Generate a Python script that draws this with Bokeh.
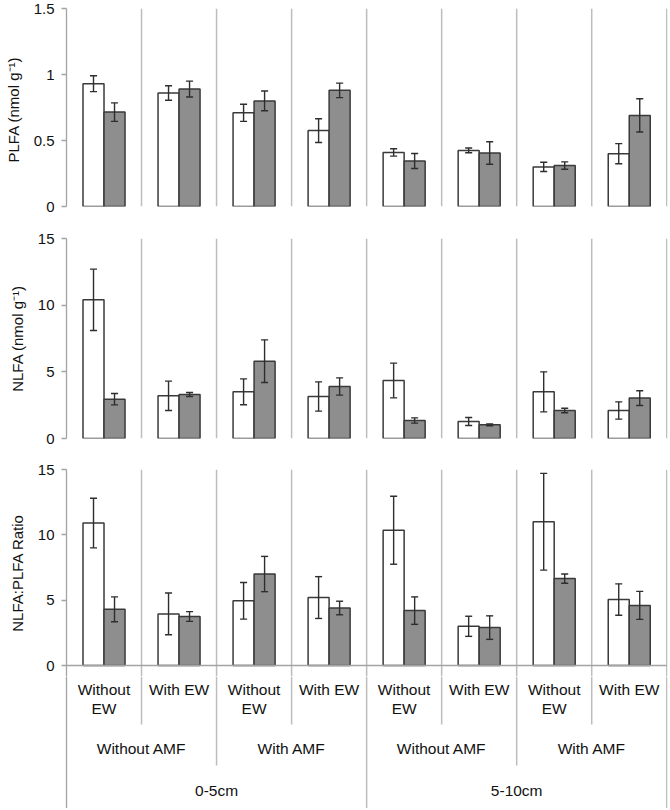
import numpy as np
from bokeh.plotting import figure
from bokeh.layouts import column
from bokeh.models import Range1d, FixedTicker, CustomJSTickFormatter
from bokeh.embed import file_html
from bokeh.resources import INLINE
from bokeh.core.properties import value

# ---------------- data ----------------
depths = ["0-5cm", "5-10cm"]
amf_levels = ["Without AMF", "With AMF"]
ew_levels = ["Without\nEW", "With EW"]

plfa_white = [0.93, 0.86, 0.71, 0.575, 0.41, 0.425, 0.30, 0.40]
plfa_white_se = [0.06, 0.055, 0.065, 0.09, 0.028, 0.018, 0.035, 0.076]
plfa_gray = [0.715, 0.89, 0.80, 0.88, 0.345, 0.405, 0.31, 0.69]
plfa_gray_se = [0.07, 0.06, 0.075, 0.055, 0.057, 0.085, 0.028, 0.126]

nlfa_white = [10.4, 3.2, 3.5, 3.15, 4.35, 1.27, 3.5, 2.1]
nlfa_white_se = [2.3, 1.1, 0.97, 1.1, 1.3, 0.3, 1.5, 0.65]
nlfa_gray = [2.95, 3.3, 5.8, 3.9, 1.35, 1.03, 2.1, 3.03]
nlfa_gray_se = [0.43, 0.15, 1.6, 0.65, 0.2, 0.07, 0.17, 0.55]

ratio_white = [10.9, 3.95, 4.95, 5.2, 10.35, 3.0, 11.0, 5.05]
ratio_white_se = [1.9, 1.6, 1.4, 1.6, 2.6, 0.77, 3.7, 1.2]
ratio_gray = [4.3, 3.75, 7.0, 4.4, 4.2, 2.9, 6.65, 4.6]
ratio_gray_se = [0.95, 0.37, 1.35, 0.52, 1.05, 0.9, 0.35, 1.07]

plfa_ticks = [0, 0.5, 1, 1.5]
nlfa_ticks = [0, 5, 10, 15]
ratio_ticks = [0, 5, 10, 15]

# ---------------- style ----------------
FONT = "Liberation Sans"
W = 670
LEFT = 66
RIGHT = 3
NG = len(plfa_white)
XR = (0, NG + 0.01)
BW = 0.28
CAP = 0.047
SEP_COLOR = "#bdbdbd"
AX_COLOR = "#a3a3a3"
BAR_LINE = "#3a3a3a"
GRAY_FILL = "#8e8e8e"
ERR_COLOR = "#2e2e2e"
TXT = "#111111"

xc = np.arange(NG) + 0.5


def base_fig(height, top, bottom, ymin, ymax, ticks):
    p = figure(width=W, height=height, output_backend="svg", toolbar_location=None,
               x_range=Range1d(*XR), y_range=Range1d(ymin, ymax),
               x_axis_location=None, title=None, tools="",
               min_border_left=LEFT, min_border_right=RIGHT,
               min_border_top=top, min_border_bottom=bottom)
    p.grid.visible = False
    p.outline_line_color = None
    p.background_fill_color = "white"
    p.border_fill_color = "white"
    ax = p.yaxis[0]
    ax.ticker = FixedTicker(ticks=ticks)
    ax.formatter = CustomJSTickFormatter(code="return String(tick);")
    ax.axis_line_color = AX_COLOR
    ax.axis_line_width = 1.3
    ax.major_tick_line_color = AX_COLOR
    ax.major_tick_line_width = 1.3
    ax.major_tick_in = 0
    ax.major_tick_out = 5
    ax.minor_tick_line_color = None
    ax.major_label_text_font = FONT
    ax.major_label_text_font_size = "15px"
    ax.major_label_text_color = TXT
    ax.major_label_standoff = 7
    ax.axis_label_text_font = FONT
    ax.axis_label_text_font_size = "15px"
    ax.axis_label_text_font_style = "normal"
    ax.axis_label_text_color = TXT
    ax.axis_label_standoff = 9
    return p


def draw_bars(p, ymin, ymax, white, white_se, gray, gray_se):
    sx = np.arange(1, NG + 1)
    p.segment(x0=sx, x1=sx, y0=np.full(NG, ymin), y1=np.full(NG, ymax),
              line_color=SEP_COLOR, line_width=1.5)
    w = np.array(white); ws = np.array(white_se)
    g = np.array(gray); gs = np.array(gray_se)
    p.vbar(x=xc - BW / 2, width=BW, top=w, bottom=0, fill_color="white",
           line_color=BAR_LINE, line_width=1.5)
    p.vbar(x=xc + BW / 2, width=BW, top=g, bottom=0, fill_color=GRAY_FILL,
           line_color=BAR_LINE, line_width=1.5)
    for xs, v, s in ((xc - BW / 2, w, ws), (xc + BW / 2, g, gs)):
        p.segment(x0=xs, x1=xs, y0=v - s, y1=v + s, line_color=ERR_COLOR, line_width=1.4)
        p.segment(x0=xs - CAP, x1=xs + CAP, y0=v + s, y1=v + s, line_color=ERR_COLOR, line_width=1.4)
        p.segment(x0=xs - CAP, x1=xs + CAP, y0=v - s, y1=v - s, line_color=ERR_COLOR, line_width=1.4)


# top panel
p1 = base_fig(218, 8, 12, 0, 1.5, plfa_ticks)
p1.yaxis[0].axis_label = "PLFA  (nmol g\u207b\u00b9)"
draw_bars(p1, 0, 1.5, plfa_white, plfa_white_se, plfa_gray, plfa_gray_se)

# middle panel
p2 = base_fig(232, 20, 12, 0, 15, nlfa_ticks)
p2.yaxis[0].axis_label = "NLFA (nmol g\u207b\u00b9)"
draw_bars(p2, 0, 15, nlfa_white, nlfa_white_se, nlfa_gray, nlfa_gray_se)

# bottom panel (frame reaches SPLIT px under the zero line)
SPLIT = 11
PPU = 196.0 / 15.0
Y3MIN = -SPLIT / PPU
p3 = base_fig(19 + 196 + SPLIT, 19, 0, Y3MIN, 15, ratio_ticks)
p3.yaxis[0].axis_label = "NLFA:PLFA Ratio"
draw_bars(p3, Y3MIN, 15, ratio_white, ratio_white_se, ratio_gray, ratio_gray_se)
p3.segment(x0=[0], x1=[NG], y0=[0], y1=[0], line_color=AX_COLOR, line_width=1.3)

# category label strip (y in pixels below the zero line)
BOTTOM_PX = 143
LBL_H = BOTTOM_PX - SPLIT
p4 = figure(width=W, height=LBL_H, output_backend="svg", toolbar_location=None,
            x_range=p3.x_range, y_range=Range1d(-BOTTOM_PX, -SPLIT),
            x_axis_location=None, title=None, tools="",
            min_border_left=LEFT, min_border_right=RIGHT,
            min_border_top=0, min_border_bottom=0)
p4.grid.visible = False
p4.outline_line_color = None
a4 = p4.yaxis[0]
a4.ticker = FixedTicker(ticks=[])
a4.major_label_text_font_size = "0px"
a4.major_tick_line_color = None
a4.minor_tick_line_color = None
a4.axis_line_color = AX_COLOR
a4.axis_line_width = 1.3

ew_sep = np.array([i for i in range(1, NG) if i % 2 == 1])
p4.segment(x0=ew_sep, x1=ew_sep, y0=np.full(len(ew_sep), -SPLIT), y1=np.full(len(ew_sep), -59),
           line_color=SEP_COLOR, line_width=1.5)
amf_sep = np.array([i for i in range(1, NG) if i % 4 == 2])
p4.segment(x0=amf_sep, x1=amf_sep, y0=np.full(len(amf_sep), -SPLIT), y1=np.full(len(amf_sep), -100),
           line_color=SEP_COLOR, line_width=1.5)
dep_sep = np.array([4, 8])
p4.segment(x0=dep_sep, x1=dep_sep, y0=np.full(len(dep_sep), -SPLIT), y1=np.full(len(dep_sep), -BOTTOM_PX),
           line_color=SEP_COLOR, line_width=1.5)

tx, ty, tt = [], [], []
for i in range(NG):
    lines = ew_levels[i % 2].split("\n")
    for k, ln in enumerate(lines):
        tx.append(xc[i]); ty.append(-(24 + 19 * k)); tt.append(ln)
for j in range(4):
    tx.append(2 * j + 1.0); ty.append(-83); tt.append(amf_levels[j % 2])
for j in range(2):
    tx.append(4 * j + 2.0); ty.append(-125); tt.append(depths[j])
p4.text(x=tx, y=ty, text=tt, text_font=value(FONT), text_font_size="15.5px",
        text_align="center", text_baseline="middle", text_color=TXT)

layout = column(p1, p2, p3, p4, spacing=0)
open("out.html", "w").write(file_html(layout, INLINE))
